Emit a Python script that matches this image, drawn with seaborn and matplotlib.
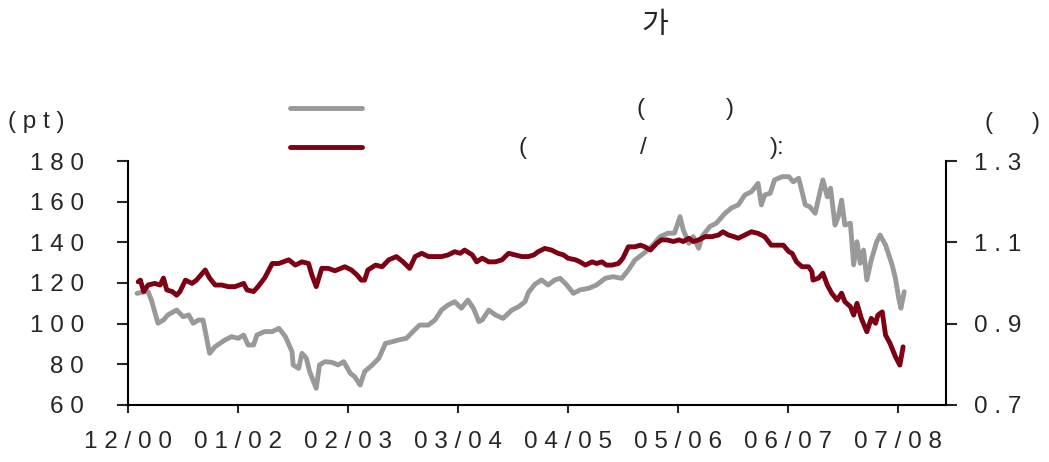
import seaborn as sns
import matplotlib.pyplot as plt
from matplotlib.lines import Line2D

# x positions: one unit per tick interval
x_ticks = [0, 1, 2, 3, 4, 5, 6, 7]
x_labels = ["1 2 / 0 0", "0 1 / 0 2", "0 2 / 0 3", "0 3 / 0 4",
            "0 4 / 0 5", "0 5 / 0 6", "0 6 / 0 7", "0 7 / 0 8"]

left_ticks = [60, 80, 100, 120, 140, 160, 180]
left_labels = ["6 0", "8 0", "1 0 0", "1 2 0", "1 4 0", "1 6 0", "1 8 0"]
right_ticks = [0.7, 0.9, 1.1, 1.3]
right_labels = ["0 . 7", "0 . 9", "1 . 1", "1 . 3"]

# gray series (left axis, pt)
gray_t = [0.08, 0.15, 0.18, 0.21, 0.27, 0.32, 0.36, 0.44, 0.50, 0.55,
          0.59, 0.64, 0.68, 0.74, 0.79, 0.88, 0.94, 1.00, 1.05, 1.09,
          1.14, 1.17, 1.24, 1.31, 1.37, 1.43, 1.49, 1.50, 1.55, 1.58,
          1.62, 1.65, 1.71, 1.74, 1.79, 1.85, 1.91, 1.96, 2.02, 2.06,
          2.11, 2.15, 2.22, 2.28, 2.34, 2.40, 2.46, 2.53, 2.59, 2.65,
          2.73, 2.79, 2.85, 2.91, 2.97, 3.03, 3.09, 3.14, 3.19, 3.22,
          3.28, 3.34, 3.41, 3.49, 3.55, 3.61, 3.64, 3.70, 3.76, 3.82,
          3.88, 3.93, 3.99, 4.05, 4.11, 4.19, 4.26, 4.34, 4.41, 4.49,
          4.55, 4.61, 4.69, 4.76, 4.84, 4.91, 4.97, 5.02, 5.05, 5.10,
          5.14, 5.19, 5.22, 5.29, 5.35, 5.43, 5.49, 5.55, 5.61, 5.67,
          5.73, 5.76, 5.79, 5.84, 5.88, 5.95, 6.01, 6.05, 6.10, 6.16,
          6.20, 6.25, 6.28, 6.32, 6.36, 6.39, 6.43, 6.46, 6.49, 6.52,
          6.57, 6.60, 6.63, 6.66, 6.69, 6.72, 6.76, 6.81, 6.84, 6.89,
          6.95, 6.98, 7.01, 7.03, 7.06]
gray_v = [114.9, 115.7, 115.7, 111.6, 100.2, 101.8, 104.3, 106.7, 103.4, 104.3,
          100.2, 101.8, 101.8, 85.4, 88.7, 92.0, 93.6, 92.8, 94.4, 89.5,
          89.5, 94.4, 96.1, 96.1, 97.7, 93.6, 86.2, 79.7, 78.0, 85.4,
          83.0, 76.4, 68.2, 79.7, 81.3, 81.0, 79.7, 81.3, 75.6, 73.9,
          69.8, 76.4, 79.7, 83.0, 90.3, 91.1, 92.0, 92.8, 96.1, 99.3,
          99.3, 101.8, 106.7, 109.2, 110.8, 107.6, 111.6, 107.6, 101.0, 101.8,
          106.7, 104.3, 102.6, 106.7, 108.3, 110.8, 115.3, 119.4, 121.5, 119.0,
          121.5, 122.3, 119.0, 114.9, 116.6, 117.4, 119.0, 122.3, 123.1, 122.3,
          126.4, 131.3, 134.6, 137.9, 142.8, 144.5, 144.5, 152.6, 146.1, 139.5,
          142.8, 137.1, 142.8, 147.7, 149.4, 154.3, 157.0, 158.4, 163.3, 164.9,
          169.0, 158.4, 163.3, 164.1, 170.7, 172.3, 172.3, 169.8, 171.5, 158.4,
          157.5, 154.3, 161.6, 170.7, 162.4, 166.6, 148.5, 152.6, 160.8, 148.5,
          149.4, 128.9, 140.3, 129.7, 136.2, 121.5, 131.3, 140.3, 143.6, 138.7,
          128.9, 122.3, 112.5, 107.6, 115.7]

# dark red series (right axis)
red_t = [0.09, 0.11, 0.14, 0.18, 0.24, 0.29, 0.32, 0.35, 0.40, 0.44,
         0.47, 0.52, 0.58, 0.62, 0.70, 0.74, 0.79, 0.85, 0.91, 0.97,
         1.05, 1.08, 1.14, 1.18, 1.24, 1.31, 1.37, 1.46, 1.52, 1.58,
         1.64, 1.67, 1.71, 1.76, 1.82, 1.88, 1.97, 2.03, 2.08, 2.12,
         2.15, 2.18, 2.25, 2.31, 2.37, 2.44, 2.50, 2.56, 2.61, 2.67,
         2.73, 2.79, 2.85, 2.91, 2.97, 3.02, 3.06, 3.13, 3.17, 3.22,
         3.28, 3.34, 3.40, 3.46, 3.52, 3.58, 3.64, 3.69, 3.73, 3.79,
         3.85, 3.91, 3.96, 4.00, 4.07, 4.11, 4.16, 4.22, 4.26, 4.31,
         4.35, 4.40, 4.46, 4.50, 4.55, 4.61, 4.66, 4.70, 4.75, 4.81,
         4.85, 4.90, 4.96, 5.01, 5.05, 5.10, 5.14, 5.19, 5.25, 5.31,
         5.37, 5.41, 5.46, 5.51, 5.55, 5.61, 5.67, 5.73, 5.79, 5.85,
         5.91, 5.96, 6.01, 6.04, 6.08, 6.13, 6.19, 6.22, 6.23, 6.28,
         6.32, 6.36, 6.40, 6.45, 6.49, 6.52, 6.57, 6.60, 6.63, 6.67,
         6.72, 6.76, 6.80, 6.82, 6.86, 6.89, 6.93, 6.98, 7.02, 7.05]
red_v = [1.003, 1.007, 0.979, 0.995, 0.999, 0.995, 1.012, 0.983, 0.979, 0.970,
         0.979, 1.007, 0.999, 1.007, 1.032, 1.012, 0.995, 0.995, 0.991, 0.991,
         0.999, 0.983, 0.979, 0.991, 1.012, 1.048, 1.048, 1.057, 1.044, 1.052,
         1.048, 1.020, 0.991, 1.036, 1.036, 1.030, 1.040, 1.032, 1.020, 1.007,
         1.007, 1.032, 1.044, 1.040, 1.057, 1.065, 1.052, 1.036, 1.065, 1.073,
         1.065, 1.065, 1.065, 1.069, 1.077, 1.073, 1.081, 1.069, 1.052, 1.061,
         1.052, 1.052, 1.057, 1.073, 1.069, 1.065, 1.065, 1.069, 1.077, 1.085,
         1.081, 1.073, 1.069, 1.061, 1.057, 1.052, 1.044, 1.052, 1.048, 1.052,
         1.044, 1.044, 1.048, 1.061, 1.089, 1.089, 1.093, 1.089, 1.081, 1.098,
         1.106, 1.106, 1.102, 1.106, 1.102, 1.110, 1.102, 1.106, 1.114, 1.114,
         1.118, 1.126, 1.118, 1.114, 1.110, 1.118, 1.126, 1.122, 1.114, 1.093,
         1.093, 1.093, 1.077, 1.073, 1.052, 1.040, 1.040, 1.028, 1.007, 1.012,
         1.024, 0.995, 0.975, 0.958, 0.975, 0.954, 0.942, 0.921, 0.950, 0.913,
         0.880, 0.913, 0.901, 0.921, 0.929, 0.872, 0.852, 0.819, 0.798, 0.843]

GRAY = "#999999"
RED = "#7d0013"
FS = 17.5

sns.set_style("ticks")
plt.rcParams['font.family'] = ['Liberation Sans', 'Noto Sans CJK KR', 'DejaVu Sans']

fig = plt.figure(figsize=(10.49, 4.62), dpi=100)
ax = fig.add_axes([0.1223, 0.1234, 0.7795, 0.5281])
ax2 = ax.twinx()

sns.lineplot(x=gray_t, y=gray_v, ax=ax, color=GRAY, linewidth=3.5,
             solid_joinstyle="round", solid_capstyle="round")
sns.lineplot(x=red_t, y=red_v, ax=ax2, color=RED, linewidth=3.5,
             solid_joinstyle="round", solid_capstyle="round")

ax.set_xlim(0, 7.44)
ax.set_ylim(60, 180)
ax2.set_ylim(0.7, 1.3)

ax.set_xticks(x_ticks)
ax.set_xticklabels(x_labels)
ax.set_yticks(left_ticks)
ax.set_yticklabels(left_labels)
ax2.set_yticks(right_ticks)
ax2.set_yticklabels(right_labels)

for a in (ax, ax2):
    a.spines["top"].set_visible(False)
    for s in a.spines.values():
        s.set_linewidth(1.5)
        s.set_color("black")
ax.spines["right"].set_visible(False)
ax2.spines["left"].set_visible(False)
ax2.spines["bottom"].set_visible(False)

ax.tick_params(axis="x", length=6, width=1.5, pad=13, labelsize=FS)
ax.tick_params(axis="y", length=8, width=1.5, pad=24, labelsize=FS)
ax2.tick_params(axis="y", length=8, width=1.5, pad=12, labelsize=FS)

# title and unit labels
fig.text(655 / 1049, 1 - 25 / 462, "가", ha="center", va="center", fontsize=21)
fig.text(8 / 1049, 1 - 122 / 462, "( p t )", ha="left", va="center", fontsize=FS)
fig.text(988 / 1049, 1 - 123 / 462, "(", ha="center", va="center", fontsize=FS)
fig.text(1036 / 1049, 1 - 123 / 462, ")", ha="center", va="center", fontsize=FS)

# legend keys and label fragments
for yy, col in [(108, GRAY), (147, RED)]:
    fig.add_artist(Line2D([290 / 1049, 362 / 1049], [1 - yy / 462, 1 - yy / 462],
                          color=col, linewidth=3.5, solid_capstyle="round"))
for xx, yy, s in [(641, 109, "("), (730, 109, ")"),
                  (523, 148, "("), (643, 148, "/"), (777, 148, "):")]:
    fig.text(xx / 1049, 1 - yy / 462, s, ha="center", va="center", fontsize=FS)

fig.savefig("out.png", dpi=100)
